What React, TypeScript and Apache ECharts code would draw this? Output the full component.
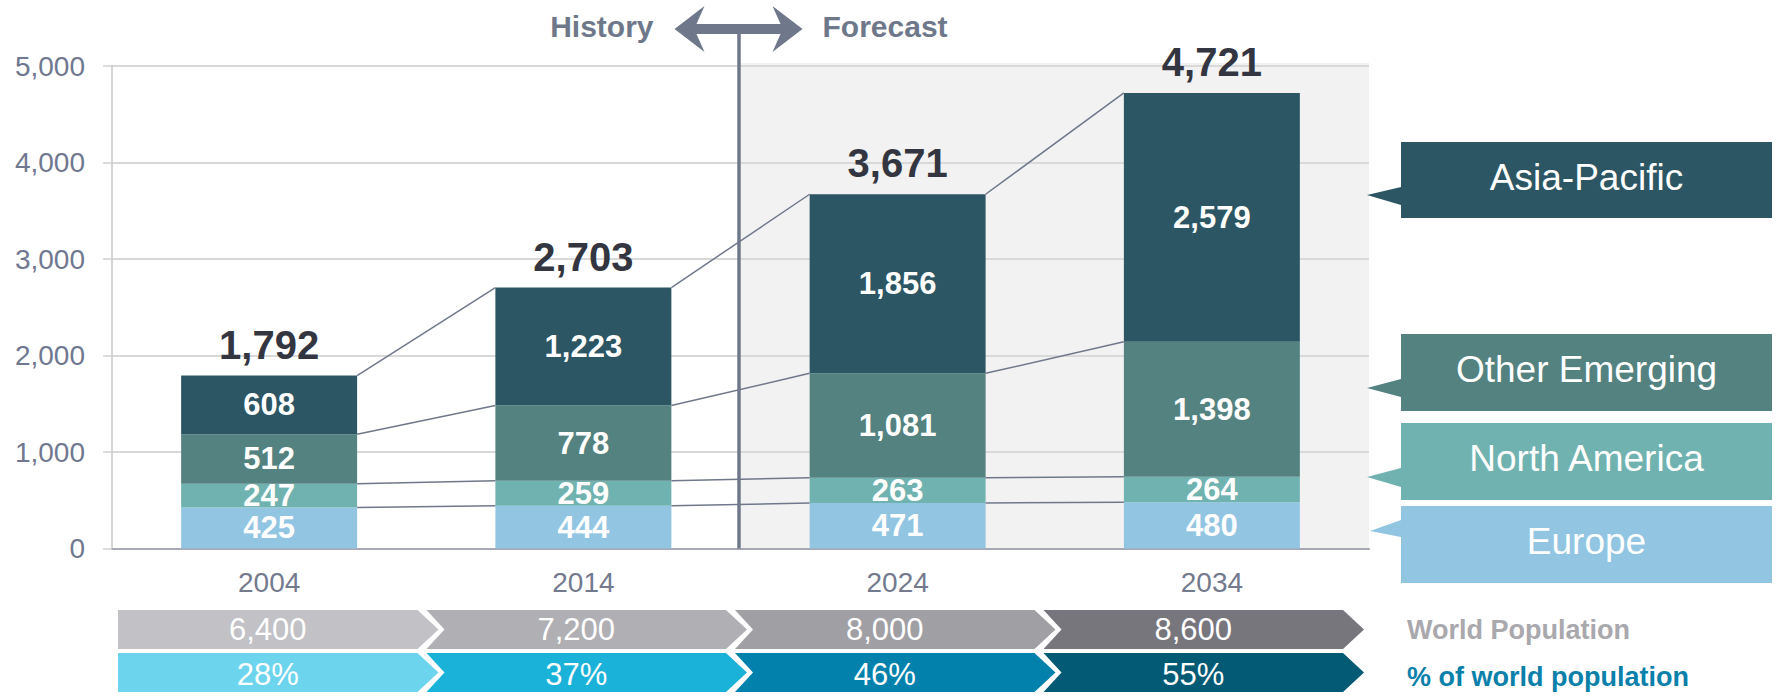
import React, { useEffect, useRef } from "react";
import * as echarts from "echarts";

const years = ["2004", "2014", "2024", "2034"];
const regionNames = ["Europe", "North America", "Other Emerging", "Asia-Pacific"];
const europe = [425, 444, 471, 480];
const northAmerica = [247, 259, 263, 264];
const otherEmerging = [512, 778, 1081, 1398];
const asiaPacific = [608, 1223, 1856, 2579];
const totals = [1792, 2703, 3671, 4721];
const worldPopulation = [6400, 7200, 8000, 8600];
const shareOfWorld = [28, 37, 46, 55];
const rowTitles = ["World Population", "% of world population"];
const periodLabels = ["History", "Forecast"];
const forecastStartIndex = 2;
const yMax = 5000;
const yInterval = 1000;

const FONT = '"Liberation Sans", Arial, Helvetica, sans-serif';
const regionColors = ["#92c5e2", "#70b2b0", "#538280", "#2d5664"];
const popColors = ["#c1c1c6", "#b0afb4", "#a09fa4", "#77767d"];
const shareColors = ["#6dd4ee", "#1bb2d9", "#0181ac", "#025a75"];
const BAR_RATIO = 0.56;

const fmt = (n: number) => Number(n).toLocaleString("en-US");

const seriesValues = [europe, northAmerica, otherEmerging, asiaPacific];

function buildOption() {
  // cumulative levels for connector lines
  const cum: number[][] = years.map((_, i) => {
    let s = 0;
    return seriesValues.map((arr) => (s += arr[i]));
  });
  const connectorData: number[][] = [];
  for (let i = 0; i < years.length - 1; i++) {
    for (let k = 0; k < seriesValues.length; k++) {
      connectorData.push([i, cum[i][k], cum[i + 1][k]]);
    }
  }

  const barSeries = seriesValues.map((vals, idx) => ({
    name: regionNames[idx],
    type: "bar",
    stack: "total",
    xAxisIndex: 0,
    yAxisIndex: 0,
    barWidth: `${BAR_RATIO * 100}%`,
    data: vals,
    itemStyle: { color: regionColors[idx] },
    z: 3,
    label: {
      show: true,
      position: "inside",
      color: "#ffffff",
      fontWeight: "bold",
      fontSize: 31,
      fontFamily: FONT,
      formatter: (p: any) => fmt(p.value),
    },
    emphasis: { disabled: true },
  }));

  const chevronData: any[] = [];
  worldPopulation.forEach((v, i) => chevronData.push([i, 0, fmt(v)]));
  shareOfWorld.forEach((v, i) => chevronData.push([i, 1, v + "%"]));

  const calloutLayout = [
    { top: 506, bottom: 583, tip: [1370, 531], base: [520, 537] },
    { top: 423, bottom: 500, tip: [1367, 477], base: [468, 487] },
    { top: 334, bottom: 411, tip: [1367, 388], base: [379, 397] },
    { top: 142, bottom: 218, tip: [1367, 195], base: [187, 205] },
  ];
  const boxL = 1401;
  const boxR = 1772;
  const graphics: any[] = [];
  regionNames.forEach((name, idx) => {
    const c = calloutLayout[idx];
    graphics.push({
      type: "polygon",
      shape: {
        points: [
          [boxL, c.top],
          [boxR, c.top],
          [boxR, c.bottom],
          [boxL, c.bottom],
          [boxL, c.base[1]],
          [c.tip[0], c.tip[1]],
          [boxL, c.base[0]],
        ],
      },
      style: { fill: regionColors[idx] },
    });
    graphics.push({
      type: "text",
      x: (boxL + boxR) / 2,
      y: (c.top + c.bottom) / 2 - 3,
      style: {
        text: name,
        fill: "#ffffff",
        font: `37px ${FONT}`,
        textAlign: "center",
        textVerticalAlign: "middle",
        align: "center",
        verticalAlign: "middle",
      },
    });
  });
  graphics.push({
    type: "text",
    x: 1407,
    y: 630,
    style: {
      text: rowTitles[0],
      fill: "#a8a8ad",
      font: `bold 27px ${FONT}`,
      textAlign: "left",
      textVerticalAlign: "middle",
      align: "left",
      verticalAlign: "middle",
    },
  });
  graphics.push({
    type: "text",
    x: 1407,
    y: 677,
    style: {
      text: rowTitles[1],
      fill: "#0a80ab",
      font: `bold 27px ${FONT}`,
      textAlign: "left",
      textVerticalAlign: "middle",
      align: "left",
      verticalAlign: "middle",
    },
  });

  return {
    animation: false,
    textStyle: { fontFamily: FONT },
    graphic: graphics,
    grid: [
      { left: 112, right: 410, top: 66, bottom: 147.5 },
      { left: 118, right: 427, top: 610, bottom: -8 },
    ],
    xAxis: [
      {
        type: "category",
        gridIndex: 0,
        data: years,
        axisLine: { show: true, lineStyle: { color: "#a6a9b5", width: 2 } },
        axisTick: { show: false },
        axisLabel: { color: "#737a8e", fontSize: 28, margin: 20, fontFamily: FONT },
        splitLine: { show: false },
      },
      {
        type: "category",
        gridIndex: 1,
        data: years,
        show: false,
      },
    ],
    yAxis: [
      {
        type: "value",
        gridIndex: 0,
        min: 0,
        max: yMax,
        interval: yInterval,
        axisLine: { show: true, lineStyle: { color: "#c8c8c8", width: 1.5 } },
        axisTick: { show: true, length: 9, lineStyle: { color: "#d0d0d0", width: 1.5 } },
        axisLabel: {
          color: "#6f7890",
          fontSize: 28,
          margin: 27,
          fontFamily: FONT,
          formatter: (v: number) => fmt(v),
        },
        splitLine: { show: true, lineStyle: { color: "#d9d9d9", width: 2 } },
      },
      {
        type: "category",
        gridIndex: 1,
        data: rowTitles,
        inverse: true,
        show: false,
      },
    ],
    series: [
      // forecast shading
      {
        type: "custom",
        xAxisIndex: 0,
        yAxisIndex: 0,
        z: -1,
        clip: false,
        silent: true,
        data: [[forecastStartIndex, yMax]],
        renderItem: (params: any, api: any) => {
          const top = api.coord([api.value(0), api.value(1)]);
          const base = api.coord([api.value(0), 0]);
          const bw = api.size([1, 0])[0];
          const x0 = top[0] - bw / 2;
          const x1 = params.coordSys.x + params.coordSys.width;
          const y0 = top[1] - 3;
          return {
            type: "rect",
            shape: { x: x0, y: y0, width: x1 - x0, height: base[1] - y0 },
            style: { fill: "#f2f2f2" },
          };
        },
      },
      ...barSeries,
      // connector lines
      {
        type: "custom",
        xAxisIndex: 0,
        yAxisIndex: 0,
        z: 4,
        clip: false,
        silent: true,
        encode: { x: 0, y: [1, 2] },
        data: connectorData,
        renderItem: (params: any, api: any) => {
          const i = api.value(0);
          const p0 = api.coord([i, api.value(1)]);
          const p1 = api.coord([i + 1, api.value(2)]);
          const bw = api.size([1, 0])[0] * BAR_RATIO;
          return {
            type: "line",
            shape: { x1: p0[0] + bw / 2, y1: p0[1], x2: p1[0] - bw / 2, y2: p1[1] },
            style: { stroke: "#6f788b", lineWidth: 1.5 },
          };
        },
      },
      // totals
      {
        type: "custom",
        xAxisIndex: 0,
        yAxisIndex: 0,
        z: 5,
        clip: false,
        silent: true,
        data: totals.map((t, i) => [i, t]),
        renderItem: (params: any, api: any) => {
          const c = api.coord([api.value(0), api.value(1)]);
          return {
            type: "text",
            x: c[0],
            y: c[1] - 31,
            style: {
              text: fmt(api.value(1)),
              fill: "#333640",
              font: `bold 40px ${FONT}`,
              textAlign: "center",
              textVerticalAlign: "middle",
              align: "center",
              verticalAlign: "middle",
            },
          };
        },
      },
      // history / forecast divider
      {
        type: "custom",
        xAxisIndex: 0,
        yAxisIndex: 0,
        z: 6,
        clip: false,
        silent: true,
        data: [[forecastStartIndex, 0]],
        renderItem: (params: any, api: any) => {
          const c = api.coord([api.value(0), 0]);
          const bw = api.size([1, 0])[0];
          const xb = c[0] - bw / 2;
          const cx = xb - 2;
          const cy = 29;
          const col = "#6f788b";
          return {
            type: "group",
            children: [
              {
                type: "line",
                shape: { x1: xb - 1.5, y1: cy, x2: xb - 1.5, y2: c[1] },
                style: { stroke: col, lineWidth: 3.5 },
              },
              {
                type: "polygon",
                shape: {
                  points: [
                    [cx - 64, cy],
                    [cx - 34, cy - 23],
                    [cx - 42, cy - 5],
                    [cx + 42, cy - 5],
                    [cx + 34, cy - 23],
                    [cx + 64, cy],
                    [cx + 34, cy + 23],
                    [cx + 42, cy + 5],
                    [cx - 42, cy + 5],
                    [cx - 34, cy + 23],
                  ],
                },
                style: { fill: col },
              },
              {
                type: "text",
                x: xb - 87,
                y: 26,
                style: {
                  text: periodLabels[0],
                  fill: col,
                  font: `bold 30px ${FONT}`,
                  textAlign: "right",
                  textVerticalAlign: "middle",
                  align: "right",
                  verticalAlign: "middle",
                },
              },
              {
                type: "text",
                x: xb + 82,
                y: 26,
                style: {
                  text: periodLabels[1],
                  fill: col,
                  font: `bold 30px ${FONT}`,
                  textAlign: "left",
                  textVerticalAlign: "middle",
                  align: "left",
                  verticalAlign: "middle",
                },
              },
            ],
          };
        },
      },
      // chevron rows
      {
        type: "custom",
        xAxisIndex: 1,
        yAxisIndex: 1,
        z: 3,
        clip: false,
        silent: true,
        encode: { x: 0, y: 1 },
        data: chevronData,
        renderItem: (params: any, api: any) => {
          const i = api.value(0);
          const row = api.value(1);
          const c = api.coord([i, row]);
          const sz = api.size([1, 1]);
          const left = c[0] - sz[0] / 2;
          const right = c[0] + sz[0] / 2;
          const top = c[1] - sz[1] / 2;
          const h = 39;
          const mid = top + h / 2;
          const corner = right - 9;
          const pts: number[][] = [
            [left, top],
            [corner, top],
            [corner + 21, mid],
            [corner, top + h],
            [left, top + h],
          ];
          if (i > 0) pts.push([left + 18, mid]);
          const colors = row === 0 ? popColors : shareColors;
          const text = chevronData[params.dataIndex][2];
          return {
            type: "group",
            children: [
              { type: "polygon", shape: { points: pts }, style: { fill: colors[i] } },
              {
                type: "text",
                x: (left + corner) / 2,
                y: mid + (row === 0 ? 0 : 1.5),
                style: {
                  text,
                  fill: "#ffffff",
                  font: `31px ${FONT}`,
                  textAlign: "center",
                  textVerticalAlign: "middle",
                  align: "center",
                  verticalAlign: "middle",
                },
              },
            ],
          };
        },
      },
    ],
  };
}

export default function App() {
  const ref = useRef<HTMLDivElement>(null);
  useEffect(() => {
    if (!ref.current) return;
    const chart = echarts.init(ref.current, null, { renderer: "svg" });
    chart.setOption(buildOption() as any);
    return () => chart.dispose();
  }, []);
  return (
    <div
      ref={ref}
      style={{ position: "absolute", left: 0, top: 0, width: 1779, height: 696, background: "#ffffff" }}
    />
  );
}
